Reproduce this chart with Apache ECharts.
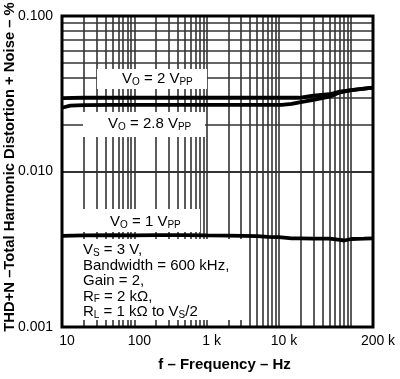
<!DOCTYPE html>
<html><head><meta charset="utf-8">
<script src="https://cdn.jsdelivr.net/npm/echarts@6/dist/echarts.min.js"></script>
<style>html,body{margin:0;padding:0;background:#fff}#c{width:400px;height:379px}</style>
</head><body><div id="c"></div>
<script>
// ---- data ----
const freq2Vpp = [10, 20, 50, 100, 200, 500, 1000, 2000, 5000, 10000, 19000, 20000, 30000, 50000, 70000, 100000, 200000];
const thd2Vpp  = [0.0296, 0.0298, 0.0298, 0.0298, 0.0298, 0.0298, 0.0298, 0.0298, 0.0298, 0.0298, 0.0298, 0.0305, 0.0307, 0.0314, 0.0326, 0.0334, 0.0346];
const freq28Vpp = [10, 13, 20, 50, 100, 500, 1000, 5000, 10000, 11000, 15000, 20000, 30000, 50000, 70000, 100000, 200000];
const thd28Vpp  = [0.0257, 0.0265, 0.0267, 0.0268, 0.0268, 0.0268, 0.0268, 0.0268, 0.0268, 0.0268, 0.0272, 0.0279, 0.0289, 0.0303, 0.0323, 0.0334, 0.0346];
const freq1Vpp = [10, 20, 50, 100, 200, 500, 1000, 2000, 5000, 7000, 10000, 15000, 20000, 30000, 50000, 70000, 80000, 100000, 150000, 200000];
const thd1Vpp  = [0.00385, 0.00388, 0.0039, 0.00388, 0.0039, 0.0039, 0.00388, 0.00387, 0.00384, 0.0038, 0.00378, 0.00372, 0.00372, 0.0037, 0.0037, 0.00363, 0.0036, 0.00368, 0.0037, 0.00372];

const xTickValues = [10, 100, 1000, 10000, 200000];
const xTickLabels = ['10', '100', '1 k', '10 k', '200 k'];
const yTickValues = [0.001, 0.01, 0.1];
const yTickLabels = ['0.001', '0.010', '0.100'];

const xGridDecades = [10, 100, 1000, 10000, 100000];
const yGridDecades = [0.001, 0.01];
const gridMantissas = [1, 2, 3, 4, 5, 6, 7, 8, 9];
const xMin = 10, xMax = 200000, yMin = 0.001, yMax = 0.1;

const xGrid = [];
xGridDecades.forEach(d => gridMantissas.forEach(m => { const v = d * m; if (v > xMin && v < xMax) xGrid.push(v); }));
const yGrid = [];
yGridDecades.forEach(d => gridMantissas.forEach(m => { const v = d * m; if (v > yMin && v < yMax) yGrid.push(v); }));

function findLabel(vals, labels, v) {
  for (let i = 0; i < vals.length; i++) if (Math.abs(v - vals[i]) / vals[i] < 1e-6) return labels[i];
  return '';
}

const FONT = '"Liberation Sans", Arial, Helvetica, sans-serif';
const gridLineStyle = { color: '#333', width: 1.6, type: 'solid' };
const curveStyle = { color: '#000', width: 3.8 };

const chart = echarts.init(document.getElementById('c'), null, { renderer: 'canvas' });

const rich = {
  a: { fontSize: 15, fontFamily: FONT, color: '#000', lineHeight: 15.5 },
  s: { fontSize: 10, fontFamily: FONT, color: '#000', lineHeight: 7, verticalAlign: 'bottom' }
};

function label(x, y, w, h, textX, textY, text) {
  return [
    { type: 'rect', z: 30, silent: true, shape: { x: x, y: y, width: w, height: h }, style: { fill: '#fff' } },
    { type: 'text', z: 31, silent: true, x: textX, y: textY, style: { text: text, rich: rich, verticalAlign: 'middle', align: 'left' } }
  ];
}

const option = {
  animation: false,
  backgroundColor: '#fff',
  grid: { left: 62, right: 27, top: 16, bottom: 52, containLabel: false, outerBoundsMode: 'none',
    show: true, borderColor: '#000', borderWidth: 3, backgroundColor: 'transparent', z: 50 },
  xAxis: {
    type: 'log', min: xMin, max: xMax, logBase: 10,
    axisLine: { show: false }, axisTick: { show: false }, splitLine: { show: false },
    axisLabel: { margin: 7, fontSize: 14, fontFamily: FONT, color: '#000', showMaxLabel: true, showMinLabel: true,
      hideOverlap: false, padding: [0, 0, 0, 10],
      formatter: v => findLabel(xTickValues, xTickLabels, v) },
    name: 'f – Frequency – Hz', nameLocation: 'middle', nameGap: 30,
    nameTextStyle: { fontSize: 15, fontWeight: 'bold', fontFamily: FONT, color: '#000', padding: [0, 0, 0, 14] }
  },
  yAxis: {
    type: 'log', min: yMin, max: yMax, logBase: 10,
    axisLine: { show: false }, axisTick: { show: false }, splitLine: { show: false },
    axisLabel: { margin: 9, fontSize: 14, fontFamily: FONT, color: '#000',
      formatter: v => findLabel(yTickValues, yTickLabels, v) },
    name: 'THD+N –Total Harmonic Distortion + Noise – %', nameLocation: 'middle', nameGap: 45, nameRotate: 90,
    nameMoveOverlap: false,
    nameTextStyle: { fontSize: 14.8, fontWeight: 'bold', fontFamily: FONT, color: '#000', padding: [0, 0, 0, 9] }
  },
  graphic: [].concat(
    label(97, 69, 110, 20, 122, 79, '{a|V}{s|O}{a| = 2 V}{s|PP}'),
    label(83, 112, 122, 25, 108, 124, '{a|V}{s|O}{a| = 2.8 V}{s|PP}'),
    label(78, 209, 122, 23, 110, 222, '{a|V}{s|O}{a| = 1 V}{s|PP}'),
    label(78, 239, 165, 81, 83, 281,
      '{a|V}{s|S}{a| = 3 V,}\n{a|Bandwidth = 600 kHz,}\n{a|Gain = 2,}\n{a|R}{s|F}{a| = 2 kΩ,}\n{a|R}{s|L}{a| = 1 kΩ to V}{s|S}{a|/2}')
  ),
  series: [
    {
      type: 'line', name: 'grid', data: [], silent: true, z: 1, symbol: 'none',
      markLine: {
        z: 1, silent: true, symbol: ['none', 'none'], label: { show: false }, animation: false,
        lineStyle: gridLineStyle, emphasis: { disabled: true },
        data: xGrid.map(v => ({ xAxis: v })).concat(yGrid.map(v => ({ yAxis: v })))
      }
    },
    { type: 'line', name: 'VO = 2 VPP', z: 40, symbol: 'none', lineStyle: curveStyle, data: freq2Vpp.map((f, i) => [f, thd2Vpp[i]]) },
    { type: 'line', name: 'VO = 2.8 VPP', z: 40, symbol: 'none', lineStyle: curveStyle, data: freq28Vpp.map((f, i) => [f, thd28Vpp[i]]) },
    { type: 'line', name: 'VO = 1 VPP', z: 40, symbol: 'none', lineStyle: curveStyle, data: freq1Vpp.map((f, i) => [f, thd1Vpp[i]]) }
  ]
};
chart.setOption(option);
</script></body></html>
